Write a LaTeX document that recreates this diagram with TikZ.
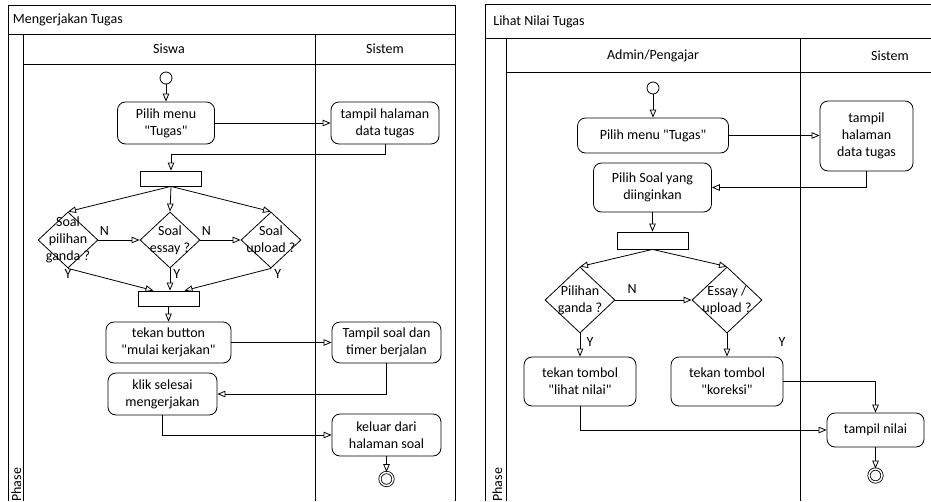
\documentclass[tikz,border=0pt]{standalone}
\usepackage{fontspec}
\setmainfont{Carlito}
\usetikzlibrary{arrows.meta,shapes.geometric}

\begin{document}
\begin{tikzpicture}[x=1pt, y=-1pt, line width=0.8pt,
        >={Triangle[open,length=8pt,width=6.5pt]},
        every node/.style={font=\fontsize{14}{17}\selectfont},
        aksi/.style={draw, rounded corners=8pt, align=center, inner sep=2pt},
        palang/.style={draw, minimum width=#1, minimum height=15pt, inner sep=0pt},
        putusan/.style={draw, diamond, inner sep=0pt},
        awal/.style={draw, circle, minimum size=12pt, inner sep=0pt},
        akhir/.style={draw, circle, double, double distance=1.5pt, minimum size=13pt, inner sep=0pt},
        garis/.style={line width=1pt}]
        \useasboundingbox (0,0) rectangle (931,501);

        % Bingkai kiri
        \draw[garis] (8,501) |- (455,5) -- (455,501);
        \draw[garis] (8,34) -- (455,34) (23,34) -- (23,501) (23,64) -- (455,64) (315,34) -- (315,501);
        \node[anchor=west, inner sep=0pt] (judul1) at (12.5,20) {Mengerjakan Tugas};
        \node (siswa) at (169,49) {Siswa};
        \node (sistem1) at (385,49) {Sistem};
        \node[rotate=90, anchor=base west, inner sep=0pt] (fase1) at (21,502) {Phase};

        % Aktivitas kiri
        \node[awal] (mulai1) at (166,78) {};
        \node[aksi, minimum width=97pt, minimum height=42pt] (pilih1) at (166,123) {Pilih menu\\\textquotedbl Tugas\textquotedbl};
        \node[aksi, minimum width=108pt, minimum height=42pt] (tampil1) at (385,123) {tampil halaman\\data tugas};
        \node[palang=61pt] (fork1) at (171,178.5) {};
        \node[putusan, minimum width=60pt, minimum height=56pt,
              label={[align=center]center:{Soal\\pilihan\\ganda ?}}] (ganda1) at (68,240) {};
        \node[putusan, minimum width=60pt, minimum height=56pt,
              label={[align=center]center:{Soal\\essay ?}}] (essay1) at (170,240) {};
        \node[putusan, minimum width=60pt, minimum height=56pt,
              label={[align=center]center:{Soal\\upload ?}}] (upload1) at (271,240) {};
        \node[palang=61pt] (join1) at (168.5,298.5) {};
        \node[aksi, minimum width=125pt, minimum height=41pt] (tekan1) at (168.5,342.5) {tekan button\\\textquotedbl mulai kerjakan\textquotedbl};
        \node[aksi, minimum width=109pt, minimum height=41pt] (timer1) at (386.5,342.5) {Tampil soal dan\\timer berjalan};
        \node[aksi, minimum width=109pt, minimum height=42pt] (klik1) at (162.5,394) {klik selesai\\mengerjakan};
        \node[aksi, minimum width=109pt, minimum height=42pt] (keluar1) at (386.5,435) {keluar dari\\halaman soal};
        \node[akhir] (selesai1) at (386.5,479) {};

        % Alur kiri
        \draw[->] (mulai1) -- (mulai1 |- pilih1.north);
        \draw[->] (pilih1) -- (tampil1);
        \draw[->] (tampil1.south) -- ++(0,10) -| (fork1.north);
        \foreach \d in {ganda1, essay1, upload1}
            \draw[->] (fork1.south) -- (\d.north);
        \draw[->] (ganda1.east) -- node[at start, above right, inner sep=1pt, yshift=3pt] {N} (essay1.west);
        \draw[->] (essay1.east) -- node[at start, above right, inner sep=1pt, yshift=3pt] {N} (upload1.west);
        \draw[->] (ganda1.south) -- node[at start, below, inner sep=1pt] {Y} ([xshift=-15pt]join1.north);
        \draw[->] (essay1.south) -- node[at start, below right, inner sep=1pt, xshift=2pt] {Y} (essay1.south |- join1.north);
        \draw[->] (upload1.south) -- node[at start, below right, inner sep=1pt, xshift=2pt] {Y} ([xshift=16pt]join1.north);
        \draw[->] (join1) -- (tekan1);
        \draw[->] (tekan1) -- (timer1);
        \draw[->] (timer1.south) |- (klik1.east);
        \draw[->] (klik1.south) |- (keluar1.west);
        \draw[->] (keluar1) -- (selesai1);

        % Bingkai kanan (terpotong di kanan)
        \draw[garis] (485,501) |- (931,4);
        \draw[garis] (485,38) -- (931,38) (506,38) -- (506,501) (506,72) -- (931,72) (800,38) -- (800,501);
        \node[anchor=west, inner sep=0pt] (judul2) at (493,22) {Lihat Nilai Tugas};
        \node (admin) at (653,56) {Admin/Pengajar};
        \node (sistem2) at (890,56) {Sistem};
        \node[rotate=90, anchor=base west, inner sep=0pt] (fase2) at (502,502) {Phase};

        % Aktivitas kanan
        \node[awal] (mulai2) at (653,88) {};
        \node[aksi, minimum width=151pt, minimum height=35pt] (pilih2) at (653,135.5) {Pilih menu \textquotedbl Tugas\textquotedbl};
        \node[aksi, minimum width=93pt, minimum height=70pt] (tampil2) at (866.5,136) {tampil\\halaman\\data tugas};
        \node[aksi, minimum width=118pt, minimum height=49pt] (soal2) at (652.5,187.5) {Pilih Soal yang\\diinginkan};
        \node[palang=71pt, minimum height=17pt] (fork2) at (652.5,240.5) {};
        \node[putusan, minimum width=70pt, minimum height=66pt,
              label={[align=center]center:{Pilihan\\ganda ?}}] (ganda2) at (580,300) {};
        \node[putusan, minimum width=70pt, minimum height=66pt,
              label={[align=center]center:{Essay /\\upload ?}}] (essay2) at (727,300) {};
        \node[aksi, minimum width=112pt, minimum height=49pt] (lihat2) at (580,381.5) {tekan tombol\\\textquotedbl lihat nilai\textquotedbl};
        \node[aksi, minimum width=112pt, minimum height=49pt] (koreksi2) at (727,381.5) {tekan tombol\\\textquotedbl koreksi\textquotedbl};
        \node[aksi, minimum width=97pt, minimum height=34pt] (nilai2) at (875.5,430) {tampil nilai};
        \node[akhir] (selesai2) at (875.5,475.5) {};

        % Alur kanan
        \draw[->] (mulai2) -- (pilih2);
        \draw[->] (pilih2.east) -- (pilih2.east -| tampil2.west);
        \draw[->] (tampil2.south) |- (soal2.east);
        \draw[->] (soal2) -- (fork2);
        \draw[->] (fork2.south) -- (ganda2.north);
        \draw[->] (fork2.south) -- (essay2.north);
        \draw[->] (ganda2.east) -- node[pos=.22, above, yshift=3pt] {N} (essay2.west);
        \draw[->] (ganda2.south) -- node[pos=.35, right, xshift=3pt] {Y} (lihat2.north);
        \draw[->] (essay2.south) -- node[pos=.35, right=48pt] {Y} (koreksi2.north);
        \draw[->] (koreksi2.east) -| (nilai2.north);
        \draw[->] (lihat2.south) |- (nilai2.west);
        \draw[->] (nilai2) -- (selesai2);
    \end{tikzpicture}
\end{document}
